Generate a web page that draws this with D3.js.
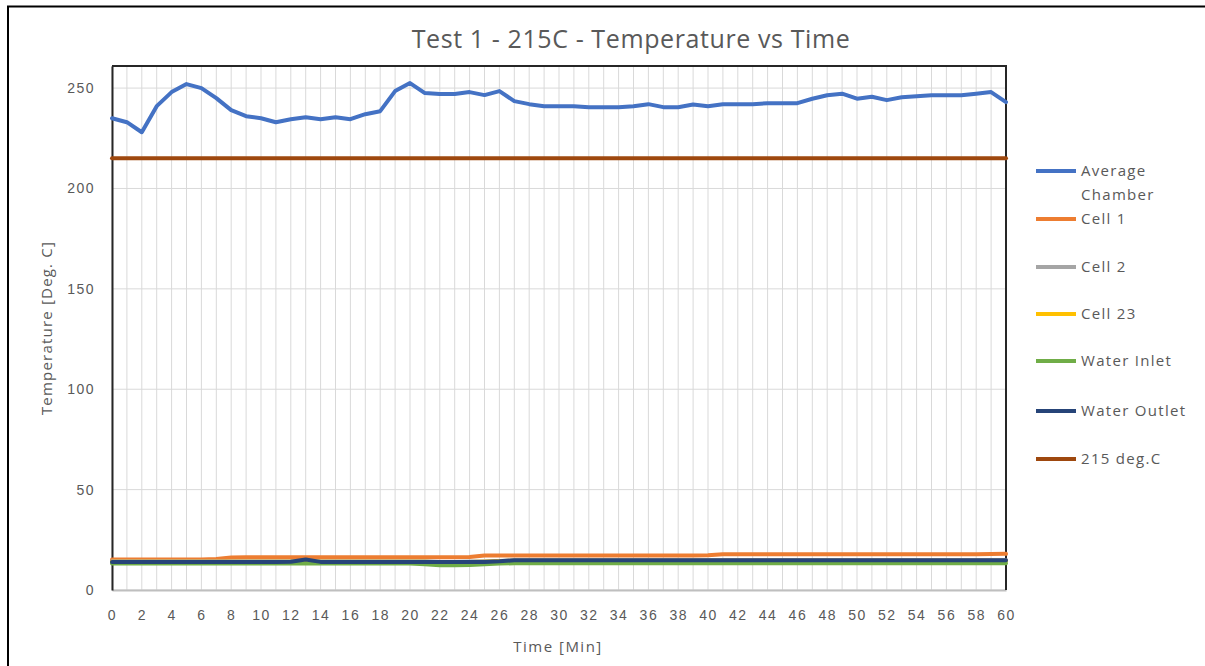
<!DOCTYPE html>
<html lang="en">

<head>
    <meta charset="UTF-8">
    <title>Test 1 - 215C - Temperature vs Time</title>
    <script src="https://cdn.jsdelivr.net/npm/d3@7"></script>
    <style>
        body {
            margin: 0;
            padding: 0;
            background-color: white;
            font-family: "Open Sans", "Noto Sans", sans-serif;
        }

        svg {
            display: block;
        }

        .grid line {
            stroke: #d9d9d9;
            stroke-width: 1;
        }

        .tick text {
            fill: #595959;
            font-size: 14px;
            letter-spacing: 1.5px;
        }

        .series {
            fill: none;
            stroke-width: 4;
            stroke-linejoin: round;
            stroke-linecap: round;
        }
    </style>
</head>

<body>
    <div id="chart"></div>
    <script>
        // data
        const minutes = d3.range(0, 61);

        const averageChamber = [
            235, 233, 228, 241, 248, 252, 250, 245, 239, 236,
            235, 233, 234.5, 235.5, 234.5, 235.5, 234.5, 237, 238.5, 248.5,
            252.5, 247.5, 247, 247, 248, 246.5, 248.5, 243.5, 242, 241,
            241, 241, 240.5, 240.5, 240.5, 241, 242, 240.5, 240.5, 241.8,
            241, 242, 242, 242, 242.5, 242.5, 242.5, 244.7, 246.4, 247.2,
            244.7, 245.7, 244, 245.4, 245.9, 246.4, 246.4, 246.4, 247.2, 248,
            243
        ];

        const cell1 = [
            15.2, 15.2, 15.2, 15.2, 15.2, 15.2, 15.2, 15.5, 16.2, 16.3,
            16.3, 16.3, 16.3, 16.3, 16.3, 16.3, 16.3, 16.3, 16.3, 16.3,
            16.3, 16.3, 16.3, 16.3, 16.4, 17.2, 17.2, 17.2, 17.2, 17.2,
            17.2, 17.2, 17.2, 17.2, 17.2, 17.2, 17.2, 17.2, 17.2, 17.2,
            17.3, 17.8, 17.8, 17.8, 17.8, 17.8, 17.8, 17.8, 17.8, 17.8,
            17.8, 17.8, 17.8, 17.8, 17.8, 17.8, 17.8, 17.8, 17.8, 17.9,
            18
        ];

        const cell2 = [
            14.3, 14.3, 14.3, 14.3, 14.3, 14.3, 14.3, 14.3, 14.3, 14.3,
            14.3, 14.3, 14.3, 14.6, 14.3, 14.3, 14.3, 14.3, 14.3, 14.3,
            14.3, 14.3, 14.0, 14.0, 14.2, 14.3, 14.5, 14.8, 14.8, 14.8,
            14.8, 14.8, 14.8, 14.8, 14.8, 14.8, 14.8, 14.8, 14.8, 14.8,
            14.8, 14.8, 14.8, 14.8, 14.8, 14.8, 14.8, 14.8, 14.8, 14.8,
            14.8, 14.8, 14.8, 14.8, 14.8, 14.8, 14.8, 14.8, 14.8, 14.8,
            14.8
        ];

        const cell23 = [
            14.1, 14.1, 14.1, 14.1, 14.1, 14.1, 14.1, 14.1, 14.1, 14.1,
            14.1, 14.1, 14.1, 14.4, 14.1, 14.1, 14.1, 14.1, 14.1, 14.1,
            14.1, 14.1, 13.8, 13.8, 14.0, 14.1, 14.3, 14.6, 14.6, 14.6,
            14.6, 14.6, 14.6, 14.6, 14.6, 14.6, 14.6, 14.6, 14.6, 14.6,
            14.6, 14.6, 14.6, 14.6, 14.6, 14.6, 14.6, 14.6, 14.6, 14.6,
            14.6, 14.6, 14.6, 14.6, 14.6, 14.6, 14.6, 14.6, 14.6, 14.6,
            14.6
        ];

        const waterInlet = [
            13.2, 13.2, 13.2, 13.2, 13.2, 13.2, 13.2, 13.2, 13.2, 13.2,
            13.2, 13.2, 13.2, 13.2, 13.2, 13.2, 13.2, 13.2, 13.2, 13.2,
            13.2, 12.8, 12.3, 12.3, 12.4, 12.8, 13.2, 13.3, 13.3, 13.3,
            13.3, 13.3, 13.3, 13.3, 13.3, 13.3, 13.3, 13.3, 13.3, 13.3,
            13.3, 13.3, 13.3, 13.3, 13.3, 13.3, 13.3, 13.3, 13.3, 13.3,
            13.3, 13.3, 13.3, 13.3, 13.3, 13.3, 13.3, 13.3, 13.3, 13.3,
            13.3
        ];

        const waterOutlet = [
            14.0, 14.0, 14.0, 14.0, 14.0, 14.0, 14.0, 14.0, 14.0, 14.0,
            14.0, 14.0, 14.1, 15.2, 14.0, 14.0, 14.0, 14.0, 14.0, 14.0,
            14.0, 14.0, 13.9, 13.9, 13.9, 14.0, 14.3, 14.8, 14.8, 14.8,
            14.8, 14.8, 14.8, 14.8, 14.8, 14.8, 14.8, 14.8, 14.8, 14.8,
            14.8, 14.8, 14.8, 14.8, 14.8, 14.8, 14.8, 14.8, 14.8, 14.8,
            14.8, 14.8, 14.8, 14.8, 14.8, 14.8, 14.8, 14.8, 14.8, 14.8,
            14.8
        ];

        const setpoint = minutes.map(() => 215);

        const seriesNames = ["Average Chamber", "Cell 1", "Cell 2", "Cell 23", "Water Inlet", "Water Outlet", "215 deg.C"];
        const seriesValues = [averageChamber, cell1, cell2, cell23, waterInlet, waterOutlet, setpoint];
        const seriesColors = ["#4472C4", "#ED7D31", "#A5A5A5", "#FFC000", "#70AD47", "#264478", "#9E480E"];

        const xTicks = d3.range(0, 61, 2);
        const yTicks = [0, 50, 100, 150, 200, 250];

        // SVG
        const w = 1205;
        const h = 666;
        const margin = { top: 66, right: 199, bottom: 76, left: 112 };

        const svg = d3.select("#chart")
            .append("svg")
            .attr("width", w)
            .attr("height", h);

        // chart frame
        svg.append("rect")
            .attr("x", 8)
            .attr("y", 6.5)
            .attr("width", 1300)
            .attr("height", 800)
            .attr("fill", "none")
            .attr("stroke", "#000")
            .attr("stroke-width", 2);

        const x = d3.scaleLinear()
            .domain([0, 60])
            .range([margin.left, w - margin.right]);

        const y = d3.scaleLinear()
            .domain([0, 261])
            .range([h - margin.bottom, margin.top]);

        // grid
        svg.append("g")
            .attr("class", "grid")
            .selectAll("line")
            .data(minutes)
            .enter()
            .append("line")
            .attr("x1", (d) => x(d))
            .attr("x2", (d) => x(d))
            .attr("y1", y(0))
            .attr("y2", y(261));

        svg.append("g")
            .attr("class", "grid")
            .selectAll("line")
            .data(yTicks)
            .enter()
            .append("line")
            .attr("x1", x(0))
            .attr("x2", x(60))
            .attr("y1", (d) => y(d))
            .attr("y2", (d) => y(d));

        // axes
        const xAxis = svg.append("g")
            .attr("transform", `translate(0, ${y(0)})`)
            .call(d3.axisBottom(x).tickValues(xTicks).tickSize(0).tickPadding(20));
        xAxis.select(".domain").attr("stroke", "#bfbfbf").attr("stroke-width", 2);

        const yAxis = svg.append("g")
            .attr("transform", `translate(${x(0)}, 0)`)
            .call(d3.axisLeft(y).tickValues(yTicks).tickSize(0).tickPadding(17));
        yAxis.select(".domain").attr("stroke", "#262626").attr("stroke-width", 2);

        // top and right border of plot area
        svg.append("path")
            .attr("d", `M${x(0)},${y(261)}H${x(60)}V${y(0)}`)
            .attr("fill", "none")
            .attr("stroke", "#262626")
            .attr("stroke-width", 2);

        // lines
        const line = d3.line()
            .x((d, i) => x(minutes[i]))
            .y((d) => y(d));

        svg.append("g")
            .selectAll("path")
            .data(seriesValues)
            .enter()
            .append("path")
            .attr("class", "series")
            .attr("stroke", (d, i) => seriesColors[i])
            .attr("d", line);

        // title
        svg.append("text")
            .attr("x", 631)
            .attr("y", 48)
            .attr("text-anchor", "middle")
            .attr("fill", "#595959")
            .style("font-size", "25px")
            .style("letter-spacing", "0.6px")
            .text("Test 1 - 215C - Temperature vs Time");

        // axis titles
        svg.append("text")
            .attr("transform", `translate(52, ${(y(0) + y(261)) / 2}) rotate(-90)`)
            .attr("text-anchor", "middle")
            .attr("fill", "#595959")
            .style("font-size", "15px")
            .style("letter-spacing", "1.2px")
            .text("Temperature [Deg. C]");

        svg.append("text")
            .attr("x", 558)
            .attr("y", 652)
            .attr("text-anchor", "middle")
            .attr("fill", "#595959")
            .style("font-size", "15px")
            .style("letter-spacing", "1.5px")
            .text("Time [Min]");

        // legend
        const legendY = [171, 219, 267, 314, 361, 411, 459];
        const legend = svg.append("g")
            .selectAll("g")
            .data(seriesNames)
            .enter()
            .append("g")
            .attr("transform", (d, i) => `translate(1036, ${legendY[i]})`);

        legend.append("line")
            .attr("x1", 0)
            .attr("x2", 40)
            .attr("stroke", (d, i) => seriesColors[i])
            .attr("stroke-width", 4);

        legend.append("text")
            .attr("x", 45)
            .attr("fill", "#595959")
            .style("font-size", "15px")
            .style("letter-spacing", "1.3px")
            .each(function (d) {
                const words = d === "Average Chamber" ? ["Average", "Chamber"] : [d];
                d3.select(this)
                    .selectAll("tspan")
                    .data(words)
                    .enter()
                    .append("tspan")
                    .attr("x", 45)
                    .attr("dy", (t, j) => j === 0 ? "0.35em" : "1.6em")
                    .text((t) => t);
            });
    </script>
</body>

</html>
